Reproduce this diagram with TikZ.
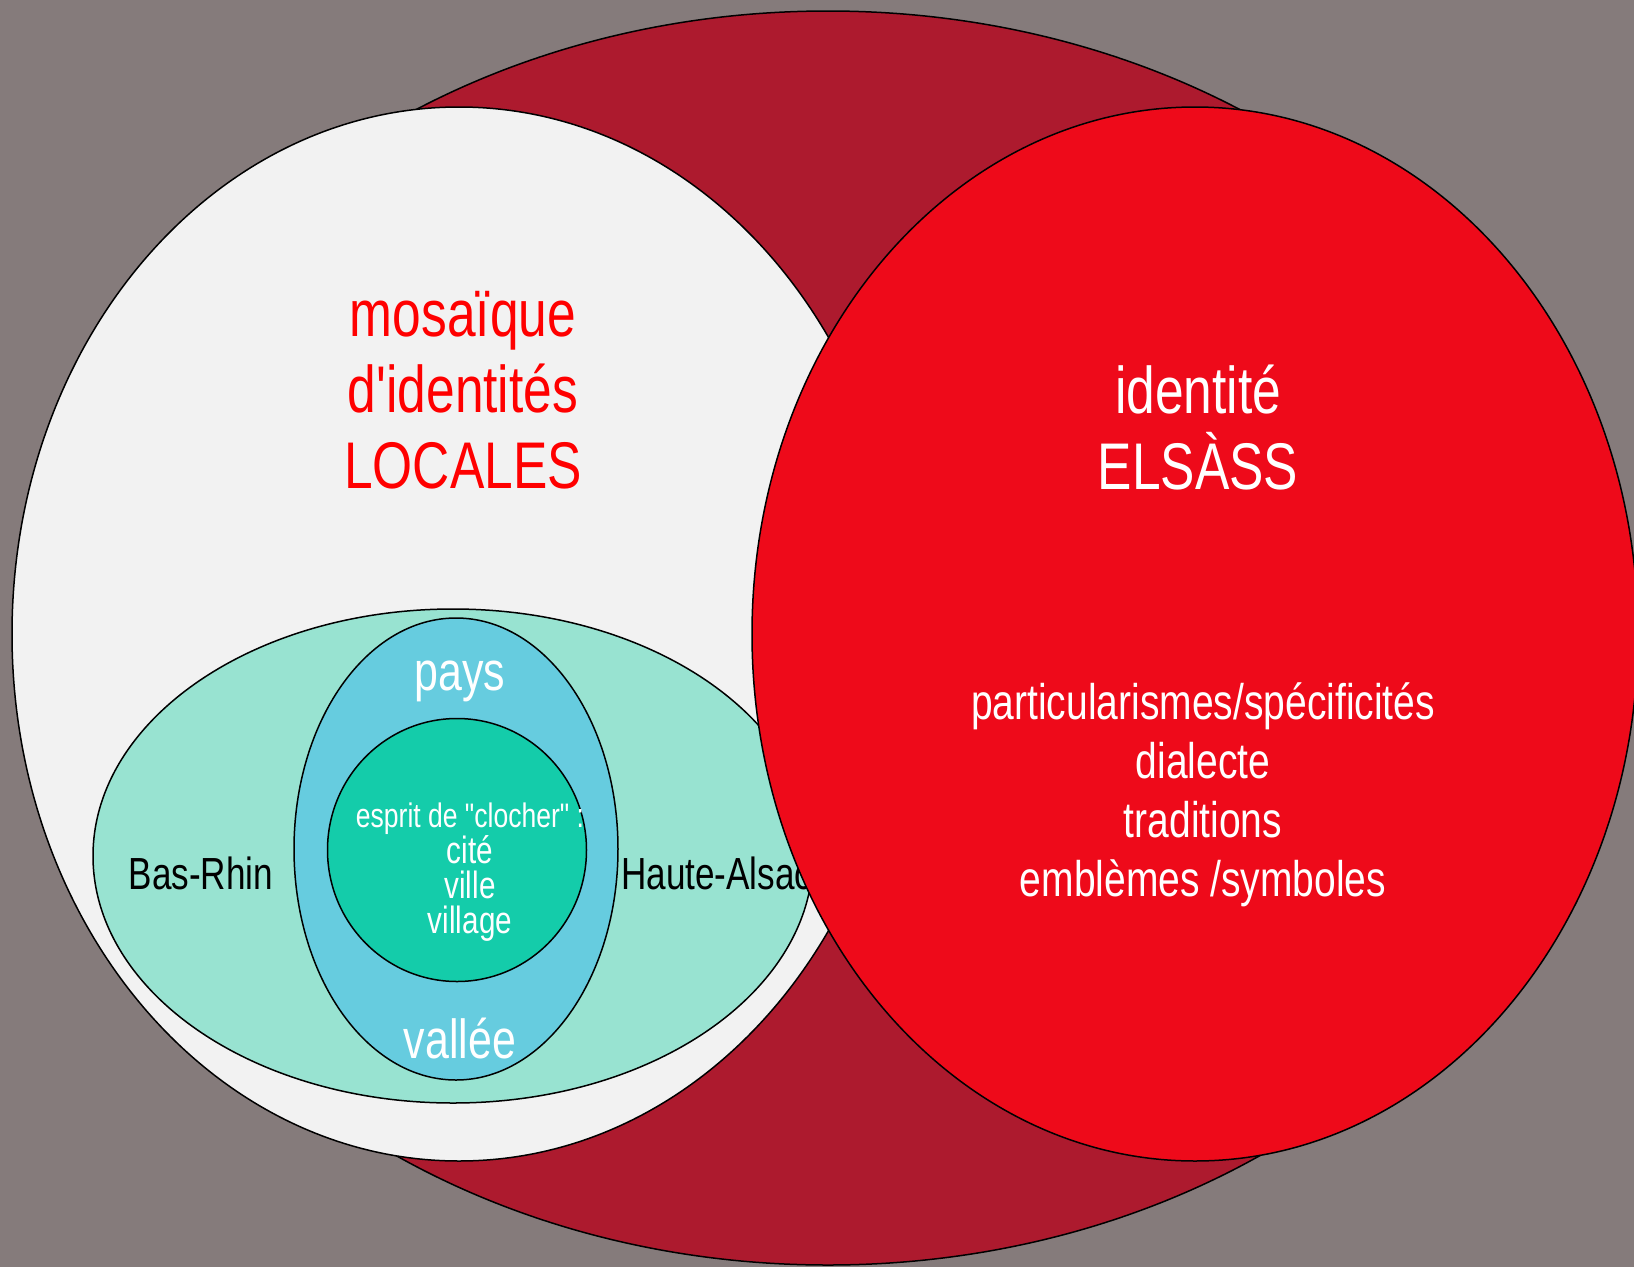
\documentclass[tikz,border=0pt]{standalone}
\usepackage{fontspec}
\newfontfamily\narrowsans[FakeStretch=0.78]{Liberation Sans}
\usepackage{xcolor}
\definecolor{Backdrop}{HTML}{857B7B}
\definecolor{AlsaceDark}{HTML}{AD1A2E}
\definecolor{LocalGrey}{HTML}{F2F2F2}
\definecolor{ElsassRed}{HTML}{EE0A1A}
\definecolor{DeptTeal}{HTML}{98E3D1}
\definecolor{PaysBlue}{HTML}{66CCDF}
\definecolor{ClochGreen}{HTML}{14CCAA}
\usepackage{tikz}
\usetikzlibrary{shapes.geometric, positioning}
\tikzstyle{zone} = [ellipse, draw=black, line width=1.5pt, inner sep=0pt]
\tikzstyle{bigtext} = [font=\narrowsans\fontsize{66}{76}\selectfont, align=center, inner sep=0pt]
\tikzstyle{midtext} = [font=\narrowsans\fontsize{55}{60}\selectfont, align=center, inner sep=0pt, text=white]
\tikzstyle{listtext} = [font=\narrowsans\fontsize{50}{59}\selectfont, align=center, inner sep=0pt, text=white]
\tikzstyle{depttext} = [font=\narrowsans\fontsize{45}{50}\selectfont, inner sep=0pt, text=black]

\begin{document}
\begin{tikzpicture}[x=1pt, y=-1pt]
    \fill[Backdrop] (0,0) rectangle (1634,1267);
    \useasboundingbox (0,0) rectangle (1634,1267);
    \clip (0,0) rectangle (1634,1267);

    % outer circles
    \node [zone, fill=AlsaceDark, minimum width=1530, minimum height=1254] (alsace) at (828,638) {};
    \node [zone, fill=LocalGrey, minimum width=894, minimum height=1054] (locales) at (459,634) {};

    % nested local levels
    \node [zone, fill=DeptTeal, minimum width=720, minimum height=494] (dept) at (453,856) {};
    \node [zone, fill=PaysBlue, minimum width=324, minimum height=462] (pays) at (456,849) {};
    \node [zone, fill=ClochGreen, minimum width=259, minimum height=263] (clocher) at (457,850) {};

    \node [bigtext, text=red] (mosaique) at (463,390) {mosaïque\\d'identités\\LOCALES};
    \node [midtext] (paystxt) at (460,681) {pays};
    \node [midtext] (valleetxt) at (460,1039) {vallée};
    \node [depttext] (basrhin) at (201,873) {Bas-Rhin};
    \node [depttext, anchor=west] (hautalsace) at (621,873) {Haute-Alsace};
    \node [align=center, inner sep=0pt, text=white, font=\narrowsans\fontsize{38}{35}\selectfont] (clochertxt) at (470,872)
        {{\fontsize{34}{35}\selectfont esprit de "clocher" :}\\cité\\ville\\village};

    % regional identity on top
    \node [zone, fill=ElsassRed, minimum width=886, minimum height=1054] (elsass) at (1195,634) {};
    \node [bigtext, text=white] (identite) at (1198,428) {identité\\ELSÀSS};
    \node [listtext] (specif) at (1203,795) {particularismes/spécificités\\dialecte\\traditions\\emblèmes /symboles};
\end{tikzpicture}
\end{document}
